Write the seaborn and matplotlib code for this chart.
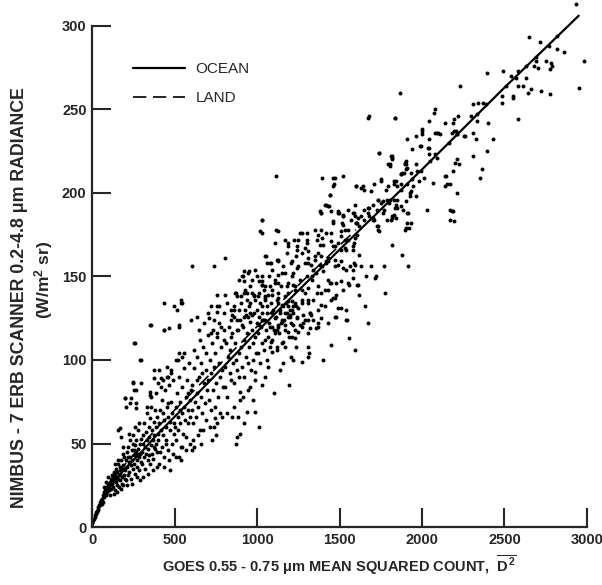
import numpy as np
import pandas as pd
import matplotlib
matplotlib.use("Agg")
import matplotlib.pyplot as plt
import seaborn as sns

# fitted curves
ocean_x = [0, 30, 60, 100, 200, 300, 400, 500, 700, 1000, 1500, 2000, 2500, 2950]
ocean_y = [0, 9, 16, 23, 35, 45, 56, 66, 86, 117, 166, 214, 263, 306]
land_x = [0, 50, 150, 400, 800, 1200, 1600]
land_y = [0, 15, 32, 60, 100, 140, 178]

# scatter points (GOES count, NIMBUS radiance), read region by region
pts_upper = [
    (2931, 313), (2983, 279), (2951, 263), (2651, 293), (2715, 290), (2821, 294), (2819, 286), (2861, 284),
    (2751, 279), (2781, 278), (2791, 276), (2775, 274), (2691, 279), (2681, 276), (2701, 275), (2721, 261),
    (2775, 259), (2661, 262), (2641, 260), (2631, 269), (2611, 264), (2581, 264), (2551, 257),
    (2397, 272), (2491, 273), (2581, 273), (2541, 270), (2231, 264), (1865, 260), (1675, 245), (1835, 245),
    (2077, 250), (2071, 248), (2311, 253), (2341, 254), (2367, 254), (2191, 244), (2217, 246), (2295, 246),
    (2581, 244), (2331, 243), (2401, 242), (2311, 236), (2327, 232), (2431, 232), (2395, 225), (2311, 222),
    (2361, 214), (2351, 209), (2001, 237), (1961, 234), (1911, 232), (2091, 236), (2107, 235), (2041, 232),
    (2041, 227), (1995, 228), (1937, 226), (2081, 223), (2181, 236), (2207, 237), (2261, 234), (2211, 220),
    (2225, 217), (2141, 210), (2151, 205), (2215, 200), (2171, 190), (2185, 189), (2167, 184), (2091, 221),
    (1741, 224), (1811, 222), (1817, 220), (1795, 217), (1807, 216), (1901, 219), (1895, 217), (1911, 215),
    (1891, 212), (1875, 211), (1961, 217), (1841, 207), (1831, 205), (1871, 205), (1795, 204), (1781, 202),
    (1751, 207), (1711, 205), (1395, 209), (1461, 209), (1471, 209), (1521, 210), (1465, 205), (1601, 204),
    (1641, 204), (1445, 199), (1411, 193), (1431, 192), (1387, 188), (1491, 189), (1521, 187), (1595, 186),
    (1607, 182), (1631, 186), (1651, 184), (1681, 191), (1671, 188), (1731, 196), (1751, 194), (1701, 185),
    (1727, 180), (1731, 178), (1807, 196), (1851, 196), (1835, 191), (1831, 187), (1821, 185), (1871, 192),
    (1905, 195), (1927, 200), (1915, 188), (1931, 182), (1897, 178), (1787, 184), (1881, 163), (1915, 156),
    (1767, 156), (1715, 149), (1775, 140), (1821, 169), (1607, 145), (1555, 145), (1621, 139), (1461, 137),
    (1441, 146), (2483, 258), (2483, 254), (2554, 258), (2253, 234), (2213, 235), (2193, 237),
]

pts_band = [
    (1451, 176), (1511, 177), (1551, 178), (1491, 170), (1531, 172), (1461, 168), (1581, 166), (1621, 163),
    (1371, 164), (1311, 161), (1291, 158), (1341, 154), (1391, 156), (1431, 159), (1471, 156), (1511, 159),
    (1561, 156), (1591, 157), (1631, 156), (1691, 156), (1721, 150), (1661, 150), (1611, 145), (1331, 148),
    (1371, 144), (1411, 142), (1451, 146), (1291, 140), (1361, 140), (1521, 142), (1481, 139), (1271, 176),
    (1301, 172), (1291, 167), (1351, 178), (1391, 173), (1381, 169),
    (1331, 150), (1421, 158), (1531, 167), (1591, 173), (1711, 184), (1771, 190), (1831, 196), (1941, 208),
    (1991, 213), (2051, 219), (2161, 230), (2211, 235), (2331, 247), (2391, 253), (2511, 264), (2571, 269),
    (2631, 276), (2691, 281), (2771, 288),
    (1451, 189), (1461, 183), (1491, 188), (1521, 186), (1521, 181), (1531, 178), (1511, 174), (1581, 188),
    (1601, 182), (1611, 185), (1621, 180), (1651, 190), (1671, 191), (1681, 186), (1701, 184), (1727, 190),
    (1731, 180), (1741, 177), (1761, 188), (1761, 195), (1787, 196), (1801, 194), (1821, 186), (1841, 193),
    (1851, 191), (1887, 190), (1907, 188), (1911, 182), (1921, 179), (1841, 185), (1811, 184), (1731, 196),
    (1701, 193), (1691, 201), (1631, 203), (1601, 204), (1647, 202), (1591, 193), (1551, 190), (1571, 184),
    (1461, 204), (1441, 199), (1677, 246), (1837, 245), (2141, 242), (2187, 242), (2045, 243), (2081, 236),
    (2095, 236), (1999, 238), (2001, 235), (1987, 228), (2037, 227), (2041, 223), (1741, 224), (1817, 222),
    (1821, 221), (1807, 217), (1897, 218), (1905, 217), (1901, 214), (1881, 212), (1931, 212), (1967, 213),
    (1981, 207), (2011, 209), (2067, 206), (2147, 210), (2187, 213), (2201, 218), (2141, 204), (1871, 211),
    (1751, 208), (1831, 207), (1851, 204), (1911, 205), (1931, 201), (1961, 198), (1875, 202), (1947, 204),
    (1927, 198), (2031, 190), (1901, 179), (2181, 189), (2191, 183), (2171, 205),
]

pts_mid = [
    (1420, 193), (1434, 192), (1380, 189), (1390, 188), (1494, 188), (1520, 186), (1586, 188), (1030, 184),
    (1460, 182), (1514, 182), (1600, 182), (1390, 178), (1420, 176), (1370, 175), (1260, 176), (1300, 176),
    (1030, 176), (1126, 177), (1110, 170), (1190, 170), (1250, 172), (1300, 170), (1366, 172), (1400, 169),
    (1450, 171), (1470, 168), (1510, 166), (1540, 166), (1580, 168), (1606, 175), (1590, 170), (1554, 172),
    (1240, 166), (1274, 164), (1310, 165), (1354, 162), (1386, 162), (1430, 161), (1054, 162), (1080, 158),
    (1130, 159), (1210, 159), (1250, 156), (1306, 158), (1330, 157), (1350, 160), (1380, 157), (1420, 159),
    (1470, 160), (1490, 157), (1520, 155), (1540, 154), (1580, 154), (1586, 158), (920, 153), (954, 153),
    (990, 154), (906, 150), (890, 148), (920, 147), (1030, 150), (1014, 147), (1090, 154), (1130, 151),
    (1170, 152), (1220, 152), (1260, 148), (1300, 150), (1360, 152), (1400, 153), (1430, 148), (1480, 146),
    (1510, 147), (1550, 146), (1580, 149), (1030, 145), (1040, 142), (1080, 144), (1130, 146), (1180, 144),
    (1230, 144), (1270, 142), (1310, 143), (1430, 142), (1390, 140), (1470, 137), (1450, 136), (1490, 131),
    (1540, 130), (870, 140), (900, 138), (940, 140), (980, 139), (990, 136), (1020, 134), (1050, 137),
    (1090, 139), (1120, 136), (1150, 133), (1190, 135), (1230, 134), (1270, 136), (1310, 136), (1140, 130),
    (1180, 128), (1210, 130), (1250, 131), (1280, 127), (1320, 128), (1370, 130), (1410, 132), (860, 132),
    (890, 130), (930, 127), (950, 132), (970, 127), (1000, 130), (1030, 128), (1060, 132), (1090, 128),
    (1110, 125), (1150, 124), (1200, 126), (1240, 125), (1290, 124), (1340, 124), (1390, 125), (850, 127),
    (880, 124), (910, 121), (960, 123), (1010, 121), (1050, 124), (1080, 120), (1130, 120), (1170, 121),
    (1220, 121), (1270, 120), (1320, 119), (1370, 120), (1430, 122), (1470, 126), (1540, 124),
    (1117, 210), (1027, 184), (1117, 178), (1017, 177), (1167, 172), (1227, 172), (1187, 168), (1047, 162),
    (1087, 158), (1127, 160), (1157, 156), (1207, 158), (1237, 162), (807, 161), (737, 156), (607, 156),
    (917, 150), (947, 152), (967, 148), (1027, 147), (1047, 144), (1107, 146), (1147, 144), (1187, 140),
    (1217, 145), (757, 139), (807, 139), (867, 140), (927, 142), (967, 140), (1007, 138), (1067, 139),
    (1127, 137),
]

pts_lower = [
    (438, 134), (538, 136), (544, 134), (512, 130), (352, 121), (438, 118), (468, 119), (524, 120),
    (262, 110), (292, 100), (524, 104), (544, 102), (508, 100), (452, 96), (408, 94), (378, 94), (248, 86),
    (298, 86), (268, 82), (378, 89), (418, 89), (458, 90), (478, 92), (398, 86), (428, 88), (348, 79),
    (198, 77), (234, 77), (268, 74), (228, 74), (354, 81),
    (357, 121), (437, 118), (527, 121), (497, 132), (537, 134), (597, 124), (637, 126), (707, 125),
    (757, 129), (767, 132), (257, 110), (297, 100), (247, 87), (257, 82), (197, 77), (207, 72), (267, 71),
    (167, 59), (157, 58), (177, 54), (187, 48), (987, 69), (977, 76), (937, 69), (847, 66), (747, 65),
    (887, 66), (947, 82), (1047, 90), (1067, 96), (987, 93), (897, 81), (1027, 85), (1047, 112), (1027, 124),
    (1506, 131), (1654, 132), (1476, 126), (1546, 124), (1674, 122), (1390, 133), (1320, 128), (1330, 127),
    (1370, 122), (1310, 116), (1360, 119), (1450, 109), (1556, 113), (1596, 106), (1400, 100), (1310, 108),
    (1306, 102), (1316, 104), (1270, 99), (1220, 100), (1206, 102), (1160, 98), (1140, 94), (1194, 85),
    (1100, 80), (1234, 108), (1170, 108), (1160, 111), (1120, 108), (1090, 105), (1086, 111), (1110, 116),
    (1190, 117), (1250, 117), (1210, 114), (1230, 113), (1280, 122), (1306, 124), (1260, 121), (1150, 123),
    (1130, 121), (1120, 118), (1170, 128), (1200, 127), (1190, 132), (1220, 132), (1270, 134), (1306, 134),
    (1340, 136), (739, 60), (919, 62), (1009, 60), (749, 55), (879, 54), (899, 56), (873, 50), (725, 52),
    (659, 50), (619, 48), (605, 46), (525, 42), (473, 34), (545, 48),
]

pts_core = [
    (12, 5), (18, 7), (22, 8), (28, 9), (33, 10), (38, 12), (42, 13), (47, 13), (52, 15), (56, 16), (58, 14),
    (45, 15), (35, 11), (25, 9), (15, 6),
    (62, 17), (66, 19), (70, 18), (73, 21), (77, 20), (80, 22), (84, 19), (87, 24), (90, 23), (93, 21),
    (96, 26), (99, 24), (103, 22), (106, 27), (110, 25), (113, 29), (116, 23), (118, 31), (72, 24), (95, 30),
    (108, 19), (85, 27), (68, 15),
    (122, 26), (125, 30), (128, 24), (131, 33), (134, 28), (137, 22), (140, 31), (143, 35), (146, 27),
    (149, 25), (152, 33), (155, 38), (158, 29), (161, 31), (164, 24), (167, 36), (170, 28), (173, 34),
    (176, 40), (179, 30), (182, 26), (185, 35), (188, 37), (191, 31), (194, 42), (197, 29), (130, 20),
    (150, 21), (175, 23), (190, 25), (160, 40), (138, 38), (185, 44), (168, 32), (145, 30),
    (202, 34), (205, 40), (208, 28), (211, 45), (214, 36), (217, 31), (220, 48), (223, 39), (226, 33),
    (229, 42), (232, 52), (235, 37), (238, 29), (241, 46), (244, 40), (247, 35), (250, 55), (253, 43),
    (256, 38), (259, 49), (262, 32), (265, 45), (268, 52), (271, 40), (274, 36), (277, 58), (280, 47),
    (283, 42), (286, 34), (289, 50), (292, 44), (295, 39), (298, 53), (210, 25), (240, 26), (270, 30),
    (290, 28), (225, 56), (260, 60), (245, 50), (285, 62), (215, 42), (255, 46), (275, 44),
    (302, 45), (305, 38), (308, 55), (311, 50), (314, 42), (317, 62), (320, 48), (323, 35), (326, 57),
    (329, 44), (332, 52), (335, 68), (338, 40), (341, 47), (344, 60), (347, 54), (350, 38), (353, 65),
    (356, 49), (359, 72), (362, 44), (365, 58), (368, 52), (371, 41), (374, 63), (377, 55), (380, 47),
    (383, 70), (386, 60), (389, 50), (392, 45), (395, 66), (398, 56), (310, 30), (340, 32), (370, 34),
    (395, 36), (330, 72), (360, 78), (385, 80), (345, 43), (375, 48),
    (402, 52), (406, 62), (410, 45), (414, 70), (418, 58), (422, 48), (426, 76), (430, 55), (434, 64),
    (438, 42), (442, 82), (446, 60), (450, 52), (454, 72), (458, 66), (462, 46), (466, 85), (470, 58),
    (474, 63), (478, 75), (482, 50), (486, 68), (490, 88), (494, 56), (498, 62), (408, 38), (436, 36),
    (468, 40), (492, 44), (420, 84), (456, 90), (480, 94), (428, 68), (462, 74), (445, 50),
    (503, 60), (507, 72), (511, 52), (515, 80), (519, 66), (523, 58), (527, 90), (531, 62), (535, 75),
    (539, 48), (543, 84), (547, 68), (551, 56), (555, 95), (559, 72), (563, 64), (567, 78), (571, 54),
    (575, 88), (579, 70), (583, 62), (587, 98), (591, 76), (595, 66), (599, 82), (510, 42), (540, 40),
    (570, 46), (595, 50), (520, 100), (560, 104), (530, 70), (580, 80),
    (603, 70), (608, 85), (613, 62), (618, 95), (623, 75), (628, 66), (633, 102), (638, 80), (643, 72),
    (648, 90), (653, 58), (658, 98), (663, 78), (668, 68), (673, 108), (678, 86), (683, 74), (688, 94),
    (693, 64), (698, 82), (610, 52), (640, 55), (675, 58), (620, 106), (655, 112), (690, 104), (635, 88),
    (665, 92),
    (703, 88), (708, 76), (713, 100), (718, 70), (723, 92), (728, 110), (733, 82), (738, 96), (743, 72),
    (748, 104), (753, 86), (758, 116), (763, 78), (768, 98), (773, 90), (778, 68), (783, 108), (788, 94),
    (793, 84), (798, 112), (715, 60), (760, 62), (790, 66), (730, 118), (770, 122),
    (803, 96), (808, 84), (813, 110), (818, 78), (823, 102), (828, 120), (833, 92), (838, 106), (843, 88),
    (848, 116), (853, 98), (858, 126), (863, 86), (868, 110), (873, 100), (878, 94), (883, 118), (888, 104),
    (893, 90), (898, 124), (820, 68), (860, 72), (895, 76), (845, 130),
    (903, 108), (908, 96), (913, 120), (918, 90), (923, 112), (928, 130), (933, 102), (938, 116), (943, 98),
    (948, 126), (953, 108), (958, 134), (963, 94), (968, 118), (973, 110), (978, 100), (983, 128), (988, 114),
    (993, 104), (998, 122), (915, 78), (955, 84), (990, 88),
    (1003, 116), (1008, 104), (1013, 126), (1018, 98), (1023, 120), (1028, 132), (1033, 110), (1038, 124),
    (1043, 106), (1048, 136), (1053, 118), (1058, 100), (1063, 128), (1068, 114), (1073, 122), (1078, 108),
    (1083, 134), (1088, 120), (1093, 112), (1098, 130), (1105, 118), (1112, 126), (1118, 106), (1125, 134),
    (1132, 116), (1138, 128), (1145, 122), (1152, 110), (1158, 132), (1165, 124), (1172, 118), (1178, 134),
    (1185, 126), (1192, 114), (1198, 130), (1205, 122), (1212, 135), (1220, 128), (1228, 118), (1235, 132),
    (1242, 126),
    (650, 118), (680, 122), (700, 128), (720, 116), (740, 124), (760, 132), (780, 120), (800, 128),
    (820, 134), (840, 124), (860, 130), (880, 118), (900, 134), (920, 126), (940, 136), (960, 128),
    (980, 138), (720, 132), (760, 114), (800, 118), (840, 114), (880, 138), (700, 115),
    (1010, 140), (1030, 145), (1050, 138), (1070, 150), (1090, 142), (1110, 148), (1130, 140), (1150, 152),
    (1170, 138), (1190, 146), (1210, 150), (1230, 142), (1245, 155), (1060, 158), (1120, 160), (1180, 164),
    (1240, 168), (1000, 150), (960, 144), (920, 140),
]

x_ticks = [0, 500, 1000, 1500, 2000, 2500, 3000]
y_ticks = [0, 50, 100, 150, 200, 250, 300]

df = pd.DataFrame(pts_upper + pts_band + pts_mid + pts_lower + pts_core, columns=["goes", "nimbus"])

sns.set_style("ticks")
plt.rcParams['font.family'] = ['Liberation Sans', 'DejaVu Sans']
plt.rcParams['mathtext.fontset'] = 'custom'
plt.rcParams['mathtext.rm'] = 'Liberation Sans:bold'
plt.rcParams['mathtext.it'] = 'Liberation Sans:bold'

fig = plt.figure(figsize=(6.02, 5.85), dpi=100)
ax = fig.add_axes([0.153, 0.099, 0.822, 0.857])

sns.scatterplot(data=df, x="goes", y="nimbus", s=8, color="black", linewidth=0,
                ax=ax, clip_on=False, legend=False)
sns.lineplot(x=ocean_x, y=ocean_y, color="black", lw=1.6, ax=ax, label="OCEAN", clip_on=False)
sns.lineplot(x=land_x, y=land_y, color="black", lw=1.2, ax=ax, label="LAND",
             linestyle=(0, (8, 4)))

ax.set_xlim(0, 3000)
ax.set_ylim(0, 300)
ax.set_xticks(x_ticks)
ax.set_yticks(y_ticks)
sns.despine(ax=ax)
for s in ["left", "bottom"]:
    ax.spines[s].set_linewidth(1.6)
ax.tick_params(direction="in", length=14, width=1.5, labelsize=10.5, pad=4)
for lab in ax.get_xticklabels() + ax.get_yticklabels():
    lab.set_fontweight("bold")

ax.set_xlabel("GOES 0.55 - 0.75 μm MEAN SQUARED COUNT,  $\\overline{D^2}$",
              fontsize=10.5, fontweight="bold", labelpad=5)
ax.set_ylabel("")
fig.text(0.032, 0.492, "NIMBUS - 7 ERB SCANNER 0.2-4.8 μm RADIANCE", rotation=90,
         ha="center", va="center", fontsize=12.8, fontweight="bold")
fig.text(0.072, 0.522, "(W/m$^2$ sr)", rotation=90, ha="center", va="center",
         fontsize=12.5, fontweight="bold")

ax.legend(loc="upper left", bbox_to_anchor=(0.055, 0.955), frameon=False, handlelength=3.4,
          handletextpad=0.7, fontsize=11, labelspacing=1.0)

fig.savefig("out.png", dpi=100)
